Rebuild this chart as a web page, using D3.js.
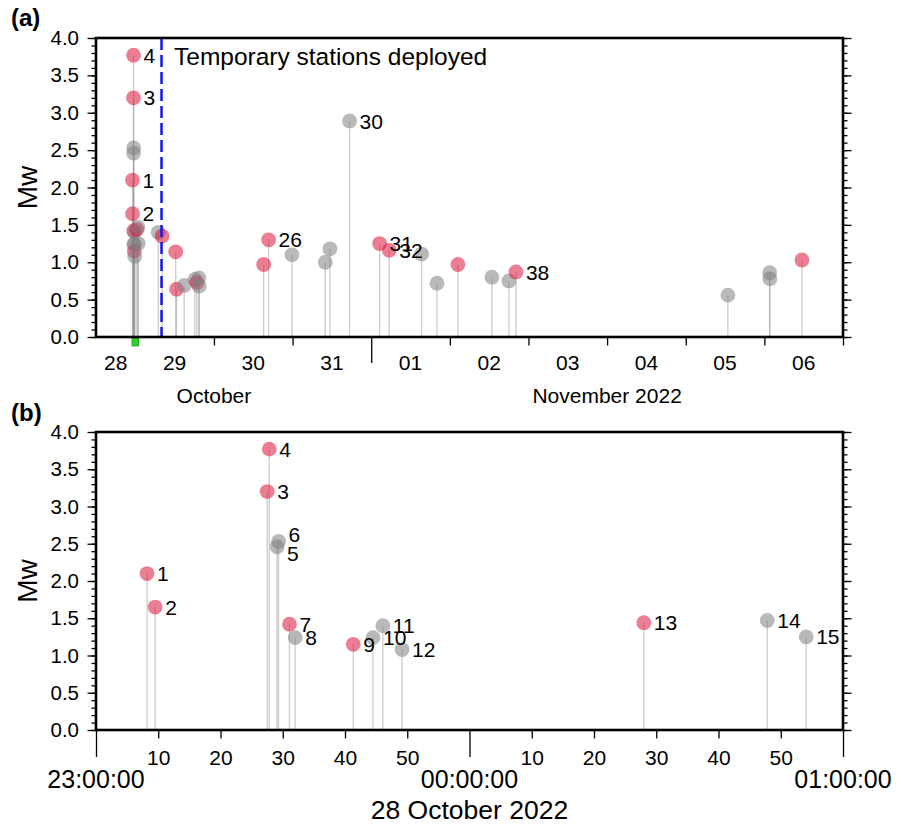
<!DOCTYPE html>
<html>
<head>
<meta charset="utf-8">
<script src="https://cdn.jsdelivr.net/npm/d3@7"></script>
<style>
  body { margin: 0; background: #fff; }
  text { font-family: "Liberation Sans", Arial, Helvetica, sans-serif; fill: #000; }
</style>
</head>
<body>
<div id="viz"></div>
<script>
// ====================
// DATA
// ====================
// event origin times (UTC), numbered 1..42 in order
const eventTimes = [
  '2022-10-28 23:08:12', '2022-10-28 23:09:30', '2022-10-28 23:27:30', '2022-10-28 23:27:50',
  '2022-10-28 23:29:05', '2022-10-28 23:29:20', '2022-10-28 23:31:05', '2022-10-28 23:32:00',
  '2022-10-28 23:41:20', '2022-10-28 23:44:30', '2022-10-28 23:46:05', '2022-10-28 23:49:10',
  '2022-10-29 00:28:00', '2022-10-29 00:47:50', '2022-10-29 00:54:05', '2022-10-29 07:00:00',
  '2022-10-29 08:10:00', '2022-10-29 12:20:00', '2022-10-29 12:35:00', '2022-10-29 14:56:00',
  '2022-10-29 18:11:00', '2022-10-29 18:48:00', '2022-10-29 19:25:00', '2022-10-29 19:30:00',
  '2022-10-30 15:10:00', '2022-10-30 16:41:00', '2022-10-30 23:48:00', '2022-10-31 09:58:00',
  '2022-10-31 11:24:00', '2022-10-31 17:24:00', '2022-11-01 02:34:00', '2022-11-01 05:30:00',
  '2022-11-01 15:23:00', '2022-11-01 20:04:00', '2022-11-02 02:28:00', '2022-11-02 12:50:00',
  '2022-11-02 18:02:00', '2022-11-02 20:10:00', '2022-11-05 12:52:00', '2022-11-06 01:36:00',
  '2022-11-06 01:40:00', '2022-11-06 11:28:00'
];
const eventMw = [
  2.10, 1.65, 3.20, 3.77, 2.46, 2.53, 1.42, 1.24, 1.15, 1.24, 1.40, 1.08,
  1.44, 1.47, 1.25, 1.40, 1.35, 1.14, 0.64, 0.69, 0.77, 0.73, 0.79, 0.68,
  0.97, 1.30, 1.10, 1.00, 1.18, 2.89, 1.25, 1.16, 1.11, 0.72, 0.97, 0.80,
  0.75, 0.87, 0.56, 0.86, 0.78, 1.03
];
// 'A' = highlighted events, 'B' = other events
const eventClass = [
  'A', 'A', 'A', 'A', 'B', 'B', 'A', 'B', 'A', 'B', 'B', 'B',
  'A', 'B', 'B', 'B', 'A', 'A', 'A', 'B', 'B', 'A', 'B', 'B',
  'A', 'A', 'B', 'B', 'B', 'B', 'A', 'A', 'B', 'B', 'A', 'B',
  'B', 'A', 'B', 'B', 'B', 'A'
];
// event numbers that get a label in panel (a)
const labelsA = [1, 2, 3, 4, 26, 30, 31, 32, 38];
// event numbers shown in panel (b)
const eventsB = [1, 2, 3, 4, 5, 6, 7, 8, 9, 10, 11, 12, 13, 14, 15];

const rangeA = ['2022-10-28 12:00:00', '2022-11-07 00:00:00'];
const rangeB = ['2022-10-28 23:00:00', '2022-10-29 01:00:00'];
const deployTime = '2022-10-29 08:00:00';
const deployText = 'Temporary stations deployed';
const monthLabels = ['October', 'November 2022'];
const monthSpans = [['2022-10-28 00:00:00', '2022-11-01 00:00:00'], ['2022-11-01 00:00:00', '2022-11-07 00:00:00']];
const dayTitleB = '28 October 2022';
const mwTicks = [0, 0.5, 1, 1.5, 2, 2.5, 3, 3.5, 4];

// ====================
// SETUP
// ====================
const width = 901;
const height = 825;
const parseT = d3.utcParse('%Y-%m-%d %H:%M:%S');

const events = eventTimes.map((t, i) => ({
  id: i + 1,
  time: parseT(t),
  mw: eventMw[i],
  cls: eventClass[i]
}));

const colors = { A: 'rgb(220,20,60)', B: 'rgb(128,128,128)' };
const plotLeft = 96, plotRight = 843;
const panelA = { top: 38, bottom: 337 };
const panelB = { top: 432, bottom: 730 };

const svg = d3.select('#viz').append('svg')
  .attr('width', width)
  .attr('height', height);

// ====================
// helpers
// ====================
const drawYAxes = (g, y) => {
  const minor = d3.range(0, 4.001, 0.1);
  const axes = [
    d3.axisLeft(y).tickValues(minor).tickSize(4.5).tickFormat(''),
    d3.axisLeft(y).tickValues(mwTicks).tickSize(8.5).tickPadding(8.5).tickFormat(d3.format('.1f'))
  ];
  axes.forEach((ax) => {
    g.append('g').attr('transform', `translate(${plotLeft},0)`).call(ax)
      .call((s) => s.select('.domain').remove())
      .call((s) => s.selectAll('line').attr('stroke-width', 1.3))
      .call((s) => s.selectAll('text').attr('font-size', 20.5).attr('font-family', null));
  });
  [d3.axisRight(y).tickValues(minor).tickSize(4.5).tickFormat(''),
   d3.axisRight(y).tickValues(mwTicks).tickSize(8.5).tickFormat('')].forEach((ax) => {
    g.append('g').attr('transform', `translate(${plotRight},0)`).call(ax)
      .call((s) => s.select('.domain').remove())
      .call((s) => s.selectAll('line').attr('stroke-width', 1.3));
  });
  const [y0, y1] = y.range();
  g.append('text')
    .attr('transform', `translate(37,${(y0 + y1) / 2}) rotate(-90)`)
    .attr('text-anchor', 'middle')
    .attr('font-size', 28)
    .text('Mw');
};

const drawEvents = (g, x, y, list, labelled, nudge) => {
  g.append('g').selectAll('line')
    .data(list)
    .join('line')
    .attr('x1', (d) => x(d.time))
    .attr('x2', (d) => x(d.time))
    .attr('y1', (d) => y(d.mw))
    .attr('y2', y(0))
    .attr('stroke', '#999')
    .attr('stroke-opacity', 0.5)
    .attr('stroke-width', 1.3);

  g.append('g').selectAll('circle')
    .data(list)
    .join('circle')
    .attr('cx', (d) => x(d.time))
    .attr('cy', (d) => y(d.mw))
    .attr('r', 7.4)
    .attr('fill', (d) => colors[d.cls])
    .attr('fill-opacity', 0.55);

  g.append('g').selectAll('text')
    .data(list.filter((d) => labelled.includes(d.id)))
    .join('text')
    .attr('x', (d) => x(d.time) + 10)
    .attr('y', (d) => y(d.mw) + (nudge[d.id] || 0))
    .attr('dy', '0.36em')
    .attr('font-size', 21)
    .text((d) => d.id);
};

const drawFrame = (g, panel) => {
  g.append('rect')
    .attr('x', plotLeft)
    .attr('y', panel.top)
    .attr('width', plotRight - plotLeft)
    .attr('height', panel.bottom - panel.top)
    .attr('fill', 'none')
    .attr('stroke', '#000')
    .attr('stroke-width', 2.6);
};

// ====================
// PANEL (a)
// ====================
const xA = d3.scaleUtc().domain(rangeA.map(parseT)).range([plotLeft, plotRight]);
const yA = d3.scaleLinear().domain([0, 4]).range([panelA.bottom, panelA.top]);
const gA = svg.append('g').attr('class', 'panelA');

drawYAxes(gA, yA);

// day boundary ticks, longer at month change
const dayTicks = d3.utcDay.range(d3.utcDay.ceil(xA.domain()[0]), d3.utcDay.offset(xA.domain()[1], 1));
gA.append('g')
  .attr('transform', `translate(0,${panelA.bottom})`)
  .call(d3.axisBottom(xA).tickValues(dayTicks).tickSize(8.5).tickFormat(''))
  .call((s) => s.select('.domain').remove())
  .call((s) => s.selectAll('line')
    .attr('stroke-width', 1.3)
    .attr('y2', (d) => (d.getUTCDate() === 1 ? 26 : 8.5)));

// day labels centred in the visible part of each day
const days = d3.utcDay.range(d3.utcDay.floor(xA.domain()[0]), xA.domain()[1]);
gA.append('g').selectAll('text')
  .data(days)
  .join('text')
  .attr('x', (d) => {
    const a = Math.max(xA(d), plotLeft);
    const b = Math.min(xA(d3.utcDay.offset(d, 1)), plotRight);
    return (a + b) / 2;
  })
  .attr('y', 370)
  .attr('text-anchor', 'middle')
  .attr('font-size', 21)
  .text(d3.utcFormat('%d'));

gA.append('g').selectAll('text')
  .data(monthLabels)
  .join('text')
  .attr('x', (d, i) => (xA(parseT(monthSpans[i][0])) + xA(parseT(monthSpans[i][1]))) / 2)
  .attr('y', 403)
  .attr('text-anchor', 'middle')
  .attr('font-size', 21)
  .text((d) => d);

// window shown in panel (b)
gA.append('rect')
  .attr('x', xA(parseT(rangeB[0])))
  .attr('y', panelA.bottom + 1)
  .attr('width', xA(parseT(rangeB[1])) - xA(parseT(rangeB[0])))
  .attr('height', 8)
  .attr('fill', '#2fd02f')
  .attr('stroke', '#1a9a1a')
  .attr('stroke-width', 0.8);

drawEvents(gA, xA, yA, events, labelsA, {});

// deployment line
gA.append('line')
  .attr('x1', xA(parseT(deployTime)))
  .attr('x2', xA(parseT(deployTime)))
  .attr('y1', panelA.top)
  .attr('y2', panelA.bottom)
  .attr('stroke', '#1515ee')
  .attr('stroke-width', 2.5)
  .attr('stroke-dasharray', '12,5');

gA.append('text')
  .attr('x', 174)
  .attr('y', 65)
  .attr('font-size', 24.5)
  .text(deployText);

drawFrame(gA, panelA);

gA.append('text')
  .attr('x', 11)
  .attr('y', 26)
  .attr('font-size', 24)
  .attr('font-weight', 'bold')
  .text('(a)');

// ====================
// PANEL (b)
// ====================
const xB = d3.scaleUtc().domain(rangeB.map(parseT)).range([plotLeft, plotRight]);
const yB = d3.scaleLinear().domain([0, 4]).range([panelB.bottom, panelB.top]);
const gB = svg.append('g').attr('class', 'panelB');

drawYAxes(gB, yB);

const minuteTicks = d3.utcMinute.every(10).range(xB.domain()[0], d3.utcMinute.offset(xB.domain()[1], 1));
gB.append('g')
  .attr('transform', `translate(0,${panelB.bottom})`)
  .call(d3.axisBottom(xB).tickValues(minuteTicks).tickSize(8.5).tickPadding(11.5)
    .tickFormat((d) => (d.getUTCMinutes() === 0 ? '' : d3.utcFormat('%M')(d))))
  .call((s) => s.select('.domain').remove())
  .call((s) => s.selectAll('line')
    .attr('stroke-width', 1.3)
    .attr('y2', (d) => (d.getUTCMinutes() === 0 ? 27 : 8.5)))
  .call((s) => s.selectAll('text').attr('font-size', 21).attr('font-family', null));

const hourTicks = minuteTicks.filter((d) => d.getUTCMinutes() === 0);
gB.append('g').selectAll('text')
  .data(hourTicks)
  .join('text')
  .attr('x', (d) => xB(d))
  .attr('y', 788)
  .attr('text-anchor', 'middle')
  .attr('font-size', 25)
  .text(d3.utcFormat('%H:%M:%S'));

gB.append('text')
  .attr('x', xB(hourTicks[1]))
  .attr('y', 818.5)
  .attr('text-anchor', 'middle')
  .attr('font-size', 26.5)
  .text(dayTitleB);

drawEvents(gB, xB, yB, events.filter((d) => eventsB.includes(d.id)), eventsB, { 5: 7, 6: -7 });

drawFrame(gB, panelB);

gB.append('text')
  .attr('x', 11)
  .attr('y', 421)
  .attr('font-size', 24)
  .attr('font-weight', 'bold')
  .text('(b)');
</script>
</body>
</html>
